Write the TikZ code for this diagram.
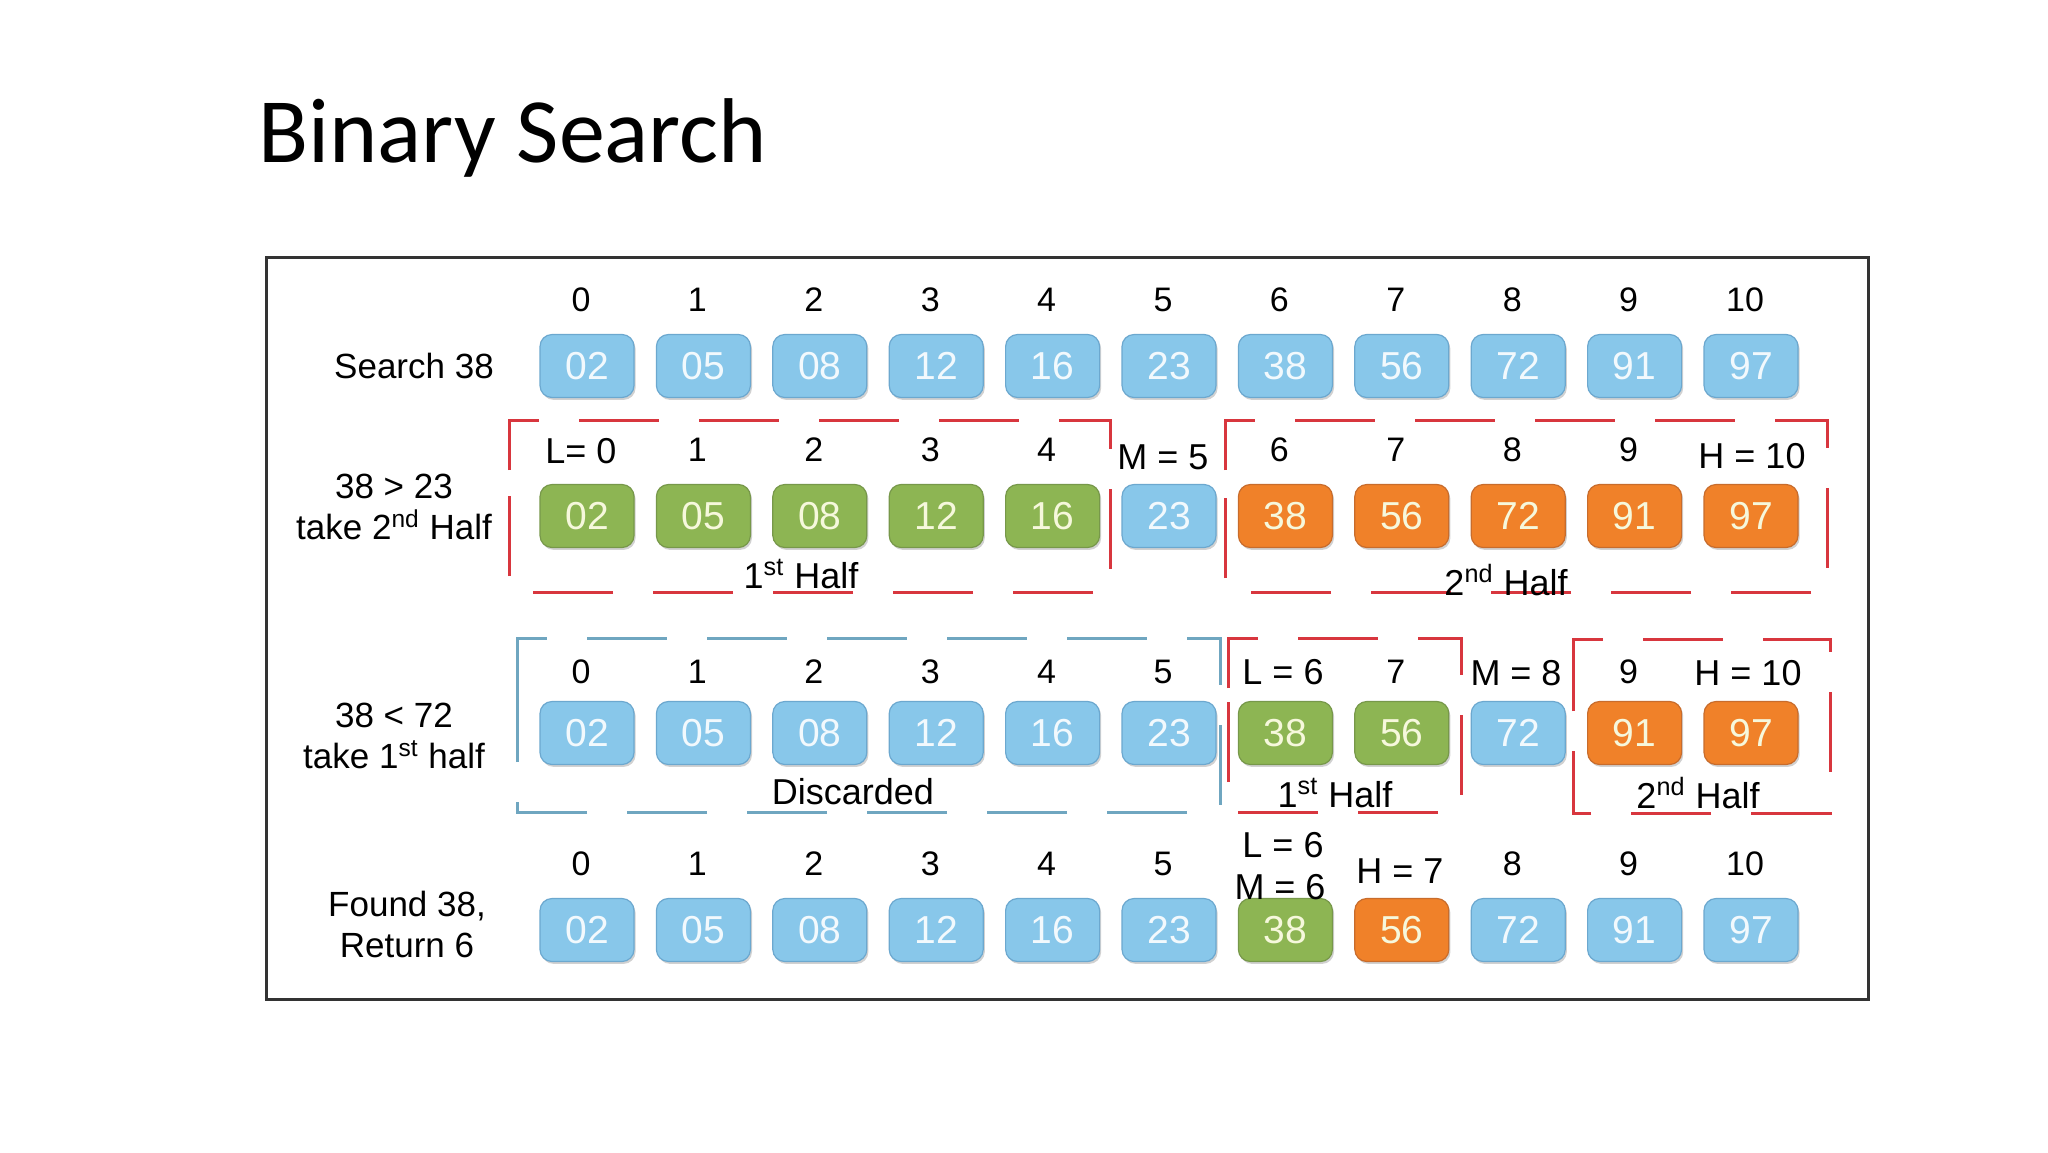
\documentclass[tikz,border=0pt]{standalone}
\usepackage{fontspec}
\setmainfont{Liberation Sans}
\newfontfamily\titlefont{Carlito}
\usetikzlibrary{shadows}
\definecolor{cblue}{HTML}{88C7EA}
\definecolor{cblueb}{HTML}{6CA8CF}
\definecolor{cgreen}{HTML}{8DB553}
\definecolor{cgreenb}{HTML}{77984A}
\definecolor{corange}{HTML}{F08129}
\definecolor{corangeb}{HTML}{C86C2C}
\definecolor{ctxtb}{HTML}{F2F9FD}
\definecolor{ctxtg}{HTML}{F6F8DC}
\definecolor{cred}{HTML}{D8363E}
\definecolor{cdash}{HTML}{6FA6C0}
\tikzset{
  cell/.style={rounded corners=6pt, minimum width=47pt, minimum height=31.5pt, inner sep=0pt,
    line width=0.6pt, font=\fontsize{19.5pt}{22pt}\selectfont,
    drop shadow={shadow xshift=0.8pt, shadow yshift=-1.2pt, fill=black, opacity=0.18}},
  bc/.style={cell, fill=cblue, draw=cblueb, text=ctxtb},
  gc/.style={cell, fill=cgreen, draw=cgreenb, text=ctxtg},
  oc/.style={cell, fill=corange, draw=corangeb, text=ctxtg},
  idx/.style={font=\fontsize{17pt}{19pt}\selectfont, inner sep=0pt},
  lbl/.style={font=\fontsize{18pt}{20pt}\selectfont, inner sep=0pt},
  side/.style={font=\fontsize{17.5pt}{20.5pt}\selectfont, align=center, inner sep=0pt},
  reddash/.style={draw=cred, line width=1.5pt, dash pattern=on 40pt off 20pt},
  bluedash/.style={draw=cdash, line width=1.5pt, dash pattern=on 40pt off 20pt},
}
\begin{document}
\begin{tikzpicture}[x=0.5pt,y=-0.5pt]
\useasboundingbox (0,0) rectangle (2048,1152);
% title
\node[anchor=base west, inner sep=0pt, font=\titlefont\fontsize{46pt}{50pt}\selectfont] (title) at (258,162) {Binary Search};
% frame
\draw[line width=1.5pt, draw=black!80, drop shadow={shadow xshift=1pt, shadow yshift=-1pt, fill=black, opacity=0.2}, fill=white] (266,257) rectangle (1868,999);

\def\vals{{"02","05","08","12","16","23","38","56","72","91","97"}}
% dashed groups
\draw[reddash] (509,470) -- (509,420) -- (1110,420) -- (1110,592) -- (509,592) -- cycle;
\draw[reddash] (1225,470) -- (1225,420) -- (1827,420) -- (1827,592) -- (1225,592) -- cycle;
\draw[bluedash] (517,688) -- (517,638) -- (1220,638) -- (1220,812) -- (517,812) -- cycle;
\draw[reddash] (1228,688) -- (1228,638) -- (1461,638) -- (1461,812) -- (1228,812) -- cycle;
\draw[reddash] (1573,689) -- (1573,639) -- (1830,639) -- (1830,813) -- (1573,813) -- cycle;

% row 1
\foreach \i in {0,...,10}{
  \pgfmathsetmacro{\cx}{587+116.4*\i}
  \pgfmathsetmacro{\lx}{581+116.4*\i}
  \pgfmathsetmacro{\v}{\vals[\i]}
  \node[idx] (ra\i) at (\lx,300) {\i};
  \node[bc] (a\i) at (\cx,366) {\v};
}
% row 2
\foreach \i/\s in {0/gc,1/gc,2/gc,3/gc,4/gc,5/bc,6/oc,7/oc,8/oc,9/oc,10/oc}{
  \pgfmathsetmacro{\cx}{587+116.4*\i}
  \pgfmathsetmacro{\v}{\vals[\i]}
  \node[\s] (b\i) at (\cx,516) {\v};
}
\foreach \i/\t in {1/1,2/2,3/3,4/4,6/6,7/7,8/8,9/9}{
  \pgfmathsetmacro{\lx}{581+116.4*\i}
  \node[idx] (rb\i) at (\lx,450) {\t};
}
\node[lbl] (rb0) at (581,451) {L= 0};
\node[lbl] (rb5) at (1163,457) {M = 5};
\node[lbl] (rb10) at (1752,456) {H = 10};
% row 3
\foreach \i/\s in {0/bc,1/bc,2/bc,3/bc,4/bc,5/bc,6/gc,7/gc,8/bc,9/oc,10/oc}{
  \pgfmathsetmacro{\cx}{587+116.4*\i}
  \pgfmathsetmacro{\v}{\vals[\i]}
  \node[\s] (c\i) at (\cx,733) {\v};
}
\foreach \i in {0,1,2,3,4,5,7,9}{
  \pgfmathsetmacro{\lx}{581+116.4*\i}
  \node[idx] (rc\i) at (\lx,672) {\i};
}
\node[lbl] (rc6) at (1283,672) {L = 6};
\node[lbl] (rc8) at (1516,673) {M = 8};
\node[lbl] (rc10) at (1748,673) {H = 10};
% row 4
\foreach \i/\s in {0/bc,1/bc,2/bc,3/bc,4/bc,5/bc,6/gc,7/oc,8/bc,9/bc,10/bc}{
  \pgfmathsetmacro{\cx}{587+116.4*\i}
  \pgfmathsetmacro{\v}{\vals[\i]}
  \node[\s] (d\i) at (\cx,930) {\v};
}
\foreach \i in {0,1,2,3,4,5,8,9,10}{
  \pgfmathsetmacro{\lx}{581+116.4*\i}
  \node[idx] (rd\i) at (\lx,864) {\i};
}
\node[lbl] (rd6a) at (1283,845) {L = 6};
\node[lbl] (rd6b) at (1280,887) {M = 6};
\node[lbl] (rd7) at (1400,871) {H = 7};

% half labels
\node[lbl] (h1) at (801,574) {1\textsuperscript{st} Half};
\node[lbl] (h2) at (1506,580) {2\textsuperscript{nd} Half};
\node[lbl] (disc) at (853,792) {Discarded};
\node[lbl] (h3) at (1335,793) {1\textsuperscript{st} Half};
\node[lbl] (h4) at (1698,793) {2\textsuperscript{nd} Half};

% side labels
\node[side] (s1) at (414,366) {Search 38};
\node[side] (s2) at (394,507) {38 > 23\\take 2\textsuperscript{nd} Half};
\node[side] (s3) at (394,736) {38 < 72\\take 1\textsuperscript{st} half};
\node[side] (s4) at (407,924) {Found 38,\\Return 6};
\end{tikzpicture}
\end{document}
